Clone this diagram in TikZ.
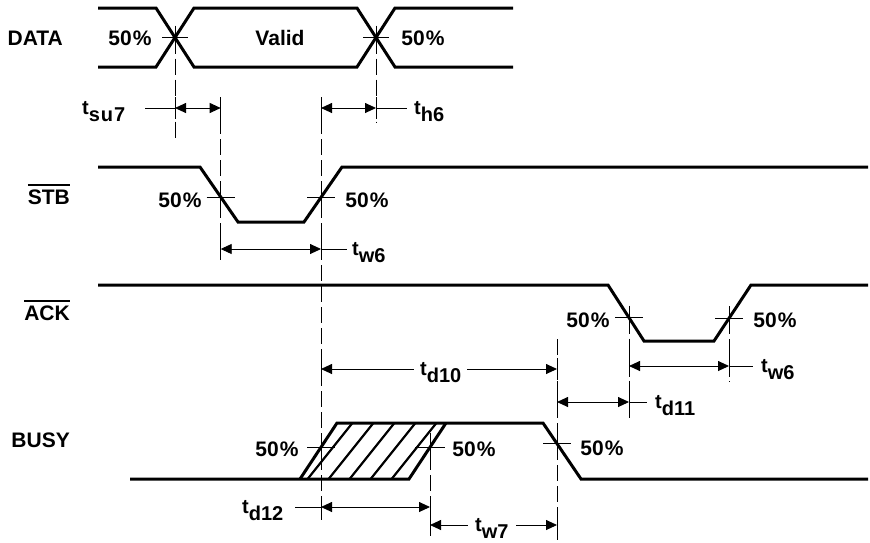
\documentclass[tikz,border=0pt]{standalone}
\usepackage{fontspec}
\setmainfont{Liberation Sans}
\usetikzlibrary{arrows.meta}
\newcommand\tsig[1]{t\raisebox{-7pt}{\fontsize{20}{20}\selectfont\bfseries #1}}
\newcommand\ovl[1]{\vbox{\hrule height 1.6pt\kern 4pt\hbox{#1}}}
\tikzset{
 sig/.style={line width=3pt},
 guide/.style={line width=0.9pt, dash pattern=on 16pt off 5pt},
 thinl/.style={line width=0.9pt},
 dim/.style={line width=0.9pt, {Triangle[length=11pt,width=10pt]}-{Triangle[length=11pt,width=10pt]}},
 lab/.style={font=\fontsize{21}{21}\selectfont\bfseries, inner sep=0pt},
 tlab/.style={font=\fontsize{20}{20}\selectfont\bfseries, inner sep=0pt, anchor=base west},
 hatchl/.style={line width=2.2pt},
}
\begin{document}
\begin{tikzpicture}[x=1pt,y=-1pt]
\useasboundingbox (0,0) rectangle (870,542);
% ---------- signal names
\node[lab, anchor=base east] (nDATA) at (63,45.5) {DATA};
\node[lab, anchor=base east] (nSTB) at (70,204.5) {\ovl{STB}};
\node[lab, anchor=base east] (nACK) at (70,320.5) {\ovl{ACK}};
\node[lab, anchor=base east] (nBUSY) at (70,447.5) {BUSY};
% ---------- DATA
\draw[sig] (98,8) -- (156,8) -- (194,67) -- (357,67) -- (395,8) -- (513,8);
\draw[sig] (98,67) -- (156,67) -- (194,8) -- (357,8) -- (395,67) -- (513,67);
\node[lab] (valid) at (280,38) {Valid};
\node[lab, anchor=base] (d50a) at (130,45.5) {50\kern1pt\%};
\node[lab, anchor=base] (d50b) at (423,45.5) {50\kern1pt\%};
\coordinate (dA) at (175,37.5);
\coordinate (dB) at (376,37.5);
% ---------- STB
\draw[sig] (98,167) -- (200,167) -- (238,222) -- (304,222) -- (342,167) -- (868,167);
\coordinate (sA) at (220.7,197);
\coordinate (sB) at (321,197);
\node[lab, anchor=base] (s50a) at (180,207.5) {50\kern1pt\%};
\node[lab, anchor=base] (s50b) at (367,207.5) {50\kern1pt\%};
% ---------- ACK
\draw[sig] (98,285) -- (608,285) -- (644,341) -- (714,341) -- (751,285) -- (868,285);
\coordinate (aA) at (629,317.7);
\coordinate (aB) at (729,318.3);
\node[lab, anchor=base] (a50a) at (588,327.5) {50\kern1pt\%};
\node[lab, anchor=base] (a50b) at (775,327.5) {50\kern1pt\%};
% ---------- BUSY
\begin{scope}
\clip (300,479) -- (337,423) -- (446,423) -- (409,479) -- cycle;
\foreach \x in {306,327,348,369,390,411}
  \draw[hatchl] (\x,481) -- (\x+48,421);
\end{scope}
\draw[sig] (130,479) -- (409,479) -- (446,423);
\draw[sig] (300,479) -- (337,423) -- (543,423) -- (581,479) -- (868,479);
\coordinate (bA) at (321,447.2);
\coordinate (bB) at (430,447.2);
\coordinate (bC) at (557,443.6);
\node[lab, anchor=base] (b50a) at (277,456.5) {50\kern1pt\%};
\node[lab, anchor=base] (b50b) at (474,456.5) {50\kern1pt\%};
\node[lab, anchor=base] (b50c) at (602,455.5) {50\kern1pt\%};
% ---------- 50% crosses
\foreach \p/\h in {dA/13,dB/13,sA/14,sB/14,aA/14,aB/14,bA/14,bB/15,bC/14}
  \draw[thinl] (\p) ++(-\h,0) -- ++(2*\h,0) (\p) ++(0,-12) -- ++(0,24);
% ---------- guide lines
\coordinate (g1t) at (175,37.5);  \coordinate (g1b) at (175,138);
\coordinate (g2t) at (376,37.5);  \coordinate (g2b) at (376,122);
\coordinate (g3t) at (220.7,97);  \coordinate (g3b) at (220.7,258);
\coordinate (g4t) at (321,97);    \coordinate (g4b) at (321,520);
\coordinate (g5t) at (557,339);   \coordinate (g5b) at (557,540);
\coordinate (g6t) at (629,317.7); \coordinate (g6b) at (629,419);
\coordinate (g7t) at (729,318.3); \coordinate (g7b) at (729,382);
\coordinate (g8t) at (430,433);   \coordinate (g8b) at (430,535);
\foreach \g in {1,...,8} \draw[guide] (g\g t) -- (g\g b);
% ---------- dimension arrows
\coordinate (su1) at (175,108); \coordinate (su2) at (220.7,108);
\coordinate (h1) at (321,108);  \coordinate (h2) at (376,108);
\coordinate (w1) at (220.7,249); \coordinate (w2) at (321,249);
\coordinate (t10a) at (321,369); \coordinate (t10b) at (557,369);
\coordinate (aw1) at (629,366); \coordinate (aw2) at (729,366);
\coordinate (t11a) at (557,402); \coordinate (t11b) at (629,402);
\coordinate (t12a) at (321,507); \coordinate (t12b) at (430,507);
\coordinate (w7a) at (430,525); \coordinate (w7b) at (557,525);
\foreach \a/\b in {su1/su2,h1/h2,w1/w2,t10a/t10b,aw1/aw2,t11a/t11b,t12a/t12b,w7a/w7b}{
  \draw[dim] (\a) -- (\b);
  \draw[thinl] (\a) ++(0,-11) -- ++(0,22) (\b) ++(0,-11) -- ++(0,22);
}
% ---------- timing labels
\node[tlab] (lsu7) at (82,114) {\tsig{s\kern1pt u\kern1pt 7}};
\draw[thinl] (145,108) -- (su1);
\node[tlab] (lh6) at (414,114) {\tsig{h6}};
\draw[thinl] (h2) -- (407,108);
\node[tlab] (lw6a) at (352,255) {\tsig{w6}};
\draw[thinl] (w2) -- (347,249);
\node[tlab, fill=white, inner xsep=6pt] (ld10) at (414,375) {\tsig{d10}};
\node[tlab] (lw6b) at (761,372) {\tsig{w6}};
\draw[thinl] (aw2) -- (753,366);
\node[tlab] (ld11) at (655,408) {\tsig{d11}};
\draw[thinl] (t11b) -- (647,402);
\node[tlab] (ld12) at (242,513) {\tsig{d12}};
\draw[thinl] (295,507) -- (t12a);
\node[tlab, fill=white, inner xsep=7pt] (lw7) at (468,531) {\tsig{w7}};
\end{tikzpicture}
\end{document}
